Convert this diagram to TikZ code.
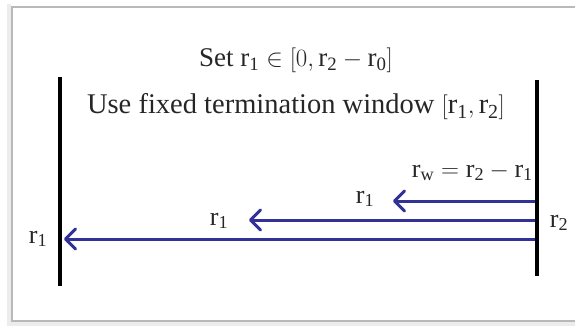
\documentclass[tikz,border=0pt]{standalone}
\usepackage{fontspec}
\setmainfont{Liberation Serif}
\usepackage{xcolor}
\usepackage{tikz}
\usetikzlibrary{arrows.meta, positioning}
\definecolor{sigblue}{RGB}{50,50,150}
\tikzset{
  bar/.style={line width=4.5pt, black},
  signal/.style={line width=3pt, sigblue, -{Straight Barb[length=10pt,width=20pt,round]}},
  lbl/.style={font=\fontsize{26}{30}\selectfont, inner sep=0pt, anchor=base, text=black!85},
  frame/.style={draw=gray!55, line width=1.5pt},
  shade/.style={draw=gray!15, line width=4pt}
}
\newcommand{\rv}[1]{\mathrm{r}_{\mathrm{#1}}}

\begin{document}
\begin{tikzpicture}[x=1pt, y=-1pt]
\useasboundingbox (0,0) rectangle (575,326);
% frame with soft shadow
\draw[shade] (9,4) -- (9,323.5) -- (590,323.5);
\draw[frame] (590,7) -- (12,7) -- (12,321) -- (590,321);

% the two ends
\coordinate (ltop) at (60,77);
\coordinate (lbot) at (60,286);
\coordinate (rtop) at (537,80);
\coordinate (rbot) at (537,276);
\draw[bar] (ltop) -- (lbot);
\draw[bar] (rtop) -- (rbot);

\node[lbl, anchor=center, font=\fontsize{27}{30}\selectfont] (set) at (296,60) {Set $\rv1 \in \left[0, \rv2 - \rv0\right]$};
\node[lbl, anchor=center, font=\fontsize{28.5}{32}\selectfont] (use) at (296,107) {Use fixed termination window $\left[\rv1, \rv2\right]$};
\node[lbl, anchor=base east] (rw) at (533,177) {$\rv{w} = \rv2 - \rv1$};

% signals from the right end
\coordinate (s1) at (535,201);
\coordinate (e1) at (393,201);
\coordinate (s2) at (535,220);
\coordinate (e2) at (249,220);
\coordinate (s3) at (535,239);
\coordinate (e3) at (64,239);
\draw[signal] (s1) -- (e1);
\draw[signal] (s2) -- (e2);
\draw[signal] (s3) -- (e3);

\node[lbl] (lab1) at (365,203) {$\rv1$};
\node[lbl] (lab2) at (219,225) {$\rv1$};
\node[lbl] (lab3) at (38,243) {$\rv1$};
\node[lbl] (labr) at (559,227) {$\rv2$};
\end{tikzpicture}
\end{document}
